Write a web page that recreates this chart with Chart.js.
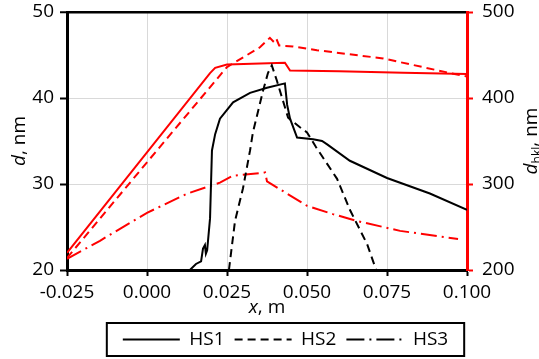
<!DOCTYPE html>
<html>
<head>
<meta charset="utf-8">
<script src="https://cdn.jsdelivr.net/npm/chart.js@4"></script>
<style>
  html, body { margin: 0; padding: 0; background: #fff; }
  #wrap { width: 539px; height: 359px; position: relative; }
</style>
</head>
<body>
<div id="wrap"><canvas id="chart"></canvas></div>
<script>
// data
// HS1..HS3 black: d, nm (left axis); red: d_hkl, nm (right axis)
const xTicks = [-0.025, 0.000, 0.025, 0.050, 0.075, 0.100];
const dTicks = [20, 30, 40, 50];
const dhklTicks = [200, 300, 400, 500];

const hs1X = [0.0134, 0.0153, 0.0169, 0.0175, 0.0181, 0.0184, 0.0188, 0.0197, 0.0203, 0.0213, 0.0228, 0.0269, 0.0322, 0.0375, 0.0431, 0.0438, 0.0447, 0.0469, 0.0519, 0.0547, 0.0563, 0.0634, 0.0750, 0.0884, 0.1000];
const hs1D = [20.0, 20.7, 21.0, 22.5, 22.9, 21.9, 22.3, 26.0, 33.9, 35.8, 37.6, 39.5, 40.6, 41.2, 41.7, 39.2, 37.6, 35.4, 35.2, 35.0, 34.6, 32.7, 30.7, 28.9, 27.0];

const hs2X = [0.0256, 0.0275, 0.0300, 0.0322, 0.0331, 0.0363, 0.0378, 0.0390, 0.0406, 0.0441, 0.0478, 0.0500, 0.0528, 0.0594, 0.0634, 0.0688, 0.0716];
const hs2D = [20.0, 25.7, 29.5, 33.9, 36.0, 40.9, 42.9, 43.8, 42.0, 37.7, 36.6, 36.0, 34.3, 30.6, 27.0, 23.0, 20.0];

const hs1hX = [-0.025, 0.0197, 0.0213, 0.0250, 0.0431, 0.0447, 0.0600, 0.0800, 0.1000];
const hs1H = [220, 429, 435, 439, 441, 432, 431, 429.5, 428];

const hs2hX = [-0.025, 0.0031, 0.0250, 0.0353, 0.0384, 0.0394, 0.0403, 0.0413, 0.0456, 0.0531, 0.0738, 0.0947, 0.1000];
const hs2H = [214, 339, 436, 459, 470, 466, 470, 461, 460, 455.6, 446, 429, 425];

const hs3hX = [-0.025, -0.0147, 0.0000, 0.0125, 0.0228, 0.0269, 0.0363, 0.0369, 0.0375, 0.0500, 0.0581, 0.0656, 0.0791, 0.0972];
const hs3H = [213, 234, 266.5, 288.7, 301.6, 309.7, 313, 313.5, 303, 274.7, 265, 257, 245.5, 236];

const seriesNames = ['HS1', 'HS2', 'HS3'];

const RED = '#ff0000';
const GRID = '#d9d9d9';
const FONT = "'Open Sans', 'Liberation Sans', sans-serif";
const FS = 19;

const pts = (xs, ys) => xs.map((x, i) => ({ x: x, y: ys[i] }));

function line(label, data, color, dash, axis, legend) {
  return {
    label: label,
    data: data,
    yAxisID: axis,
    borderColor: color,
    backgroundColor: color,
    borderWidth: 2,
    borderDash: dash,
    pointRadius: 0,
    tension: 0,
    fill: false,
    inLegend: legend
  };
}

const data = {
  datasets: [
    line(seriesNames[0], pts(hs1X, hs1D), '#000', [], 'y', true),
    line(seriesNames[1], pts(hs2X, hs2D), '#000', [8, 5], 'y', true),
    line(seriesNames[2], [], '#000', [18, 5, 2, 5], 'y', true),
    line('HS1 dhkl', pts(hs1hX, hs1H), RED, [], 'y1', false),
    line('HS2 dhkl', pts(hs2hX, hs2H), RED, [8, 5], 'y1', false),
    line('HS3 dhkl', pts(hs3hX, hs3H), RED, [16, 5, 2, 5], 'y1', false)
  ]
};

// titles with italic symbols + legend frame
const extras = {
  id: 'extras',
  afterLayout(chart) {
    // legend box sits a bit right of centre in the original
    chart.legend.left += 16;
    chart.legend.right += 16;
  },
  afterDraw(chart) {
    const ctx = chart.ctx;
    const area = chart.chartArea;
    const cy = (area.top + area.bottom) / 2;
    ctx.save();
    ctx.fillStyle = '#000';
    ctx.textBaseline = 'alphabetic';

    const runs = (parts) => parts.reduce((w, p) => { ctx.font = p.f; return w + ctx.measureText(p.t).width; }, 0);
    const drawRuns = (parts, x0, y0) => {
      let x = x0;
      parts.forEach(p => { ctx.font = p.f; ctx.fillText(p.t, x, y0 + (p.dy || 0)); x += ctx.measureText(p.t).width; });
    };
    const it = 'italic ' + FS + 'px ' + FONT, up = FS + 'px ' + FONT, sub = '12px ' + FONT;

    // x, m
    const xt = [{ t: 'x', f: it }, { t: ', m', f: up }];
    drawRuns(xt, (area.left + area.right) / 2 - runs(xt) / 2, 313);

    // d, nm (left)
    const lt = [{ t: 'd', f: it }, { t: ', nm', f: up }];
    ctx.save();
    ctx.translate(25, cy);
    ctx.rotate(-Math.PI / 2);
    drawRuns(lt, -runs(lt) / 2, 0);
    ctx.restore();

    // d_hkl, nm (right)
    const rt = [{ t: 'd', f: it }, { t: 'hkl', f: sub, dy: 4 }, { t: ', nm', f: up }];
    ctx.save();
    ctx.translate(537, cy);
    ctx.rotate(-Math.PI / 2);
    drawRuns(rt, -runs(rt) / 2, 0);
    ctx.restore();

    // legend frame
    const hb = chart.legend.legendHitBoxes;
    if (hb && hb.length) {
      const l = Math.min(...hb.map(b => b.left)) - 16;
      const r = Math.max(...hb.map(b => b.left + b.width)) + 16;
      const t = hb[0].top - 7;
      const b = hb[0].top + hb[0].height + 7;
      ctx.strokeStyle = '#000';
      ctx.lineWidth = 2;
      ctx.strokeRect(l, t, r - l, b - t);
    }
    ctx.restore();
  }
};

const config = {
  type: 'line',
  data: data,
  options: {
    responsive: true,
    maintainAspectRatio: false,
    animation: false,
    layout: { padding: { left: 0, right: 0, top: 12, bottom: 0 } },
    plugins: {
      tooltip: { enabled: false },
      legend: {
        position: 'bottom',
        labels: {
          color: '#000',
          font: { family: FONT, size: FS },
          usePointStyle: true,
          pointStyle: 'line',
          pointStyleWidth: 57,
          padding: 10,
          generateLabels: chart => Chart.defaults.plugins.legend.labels.generateLabels(chart)
            .filter(it => chart.data.datasets[it.datasetIndex].inLegend)
            .map(it => {
              const ds = chart.data.datasets[it.datasetIndex];
              return Object.assign(it, { lineDash: ds.borderDash, lineWidth: 2, strokeStyle: '#000', fillStyle: '#000' });
            })
        }
      }
    },
    scales: {
      x: {
        type: 'linear',
        min: -0.025,
        max: 0.1,
        afterBuildTicks: s => { s.ticks = xTicks.map(v => ({ value: v })); },
        afterFit: s => { s.height = 50; },
        ticks: {
          color: '#000',
          font: { family: FONT, size: FS },
          padding: 5,
          maxRotation: 0,
          callback: v => (Math.round(v * 1000) / 1000).toFixed(3)
        },
        grid: { color: GRID, lineWidth: 1, tickColor: '#000', tickLength: 6, tickWidth: 2 },
        border: { color: '#000', width: 3 }
      },
      y: {
        position: 'left',
        min: 20,
        max: 50,
        afterBuildTicks: s => { s.ticks = dTicks.map(v => ({ value: v })); },
        afterFit: s => { s.width = 67; s.paddingTop = 0; s.paddingBottom = 0; },
        ticks: { color: '#000', font: { family: FONT, size: FS }, padding: 6 },
        grid: {
          color: c => (c.tick && c.tick.value === 50) ? '#000' : GRID,
          lineWidth: c => (c.tick && c.tick.value === 50) ? 2.5 : 1,
          tickColor: '#000',
          tickLength: 7,
          tickWidth: 2
        },
        border: { color: '#000', width: 3 }
      },
      y1: {
        position: 'right',
        min: 200,
        max: 500,
        afterBuildTicks: s => { s.ticks = dhklTicks.map(v => ({ value: v })); },
        afterFit: s => { s.width = 72; s.paddingTop = 0; s.paddingBottom = 0; },
        ticks: { color: '#000', font: { family: FONT, size: FS }, padding: 9 },
        grid: { drawOnChartArea: false, tickColor: RED, tickLength: 6, tickWidth: 2 },
        border: { color: RED, width: 3 }
      }
    }
  },
  plugins: [extras]
};

const myChart = new Chart(document.getElementById('chart'), config);
</script>
</body>
</html>
